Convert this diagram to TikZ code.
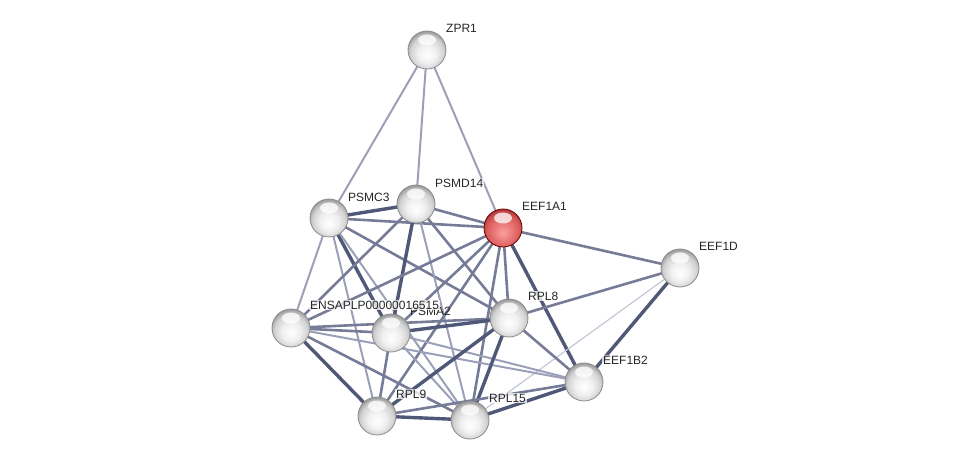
\documentclass[tikz,border=0pt]{standalone}
\usepackage{fontspec}
\setmainfont{Liberation Sans}
\usetikzlibrary{calc}
\definecolor{ethick}{RGB}{80,88,120}
\definecolor{emed}{RGB}{118,124,152}
\definecolor{elight}{RGB}{155,160,184}
\definecolor{evlight}{RGB}{192,196,212}
\pgfdeclareradialshading{sphgray}{\pgfpoint{0bp}{-7bp}}{%
  color(0bp)=(white);
  color(12bp)=(black!6);
  color(22bp)=(black!18);
  color(28bp)=(black!40);
  color(32bp)=(black!50);
  color(50bp)=(black!50)}
\pgfdeclareradialshading{sphred}{\pgfpoint{0bp}{-7bp}}{%
  color(0bp)=(rgb,255:red,250;green,160;blue,160);
  color(12bp)=(rgb,255:red,235;green,120;blue,120);
  color(22bp)=(rgb,255:red,215;green,90;blue,90);
  color(28bp)=(rgb,255:red,175;green,55;blue,55);
  color(32bp)=(rgb,255:red,150;green,40;blue,40);
  color(50bp)=(rgb,255:red,150;green,40;blue,40)}
\tikzset{
  eA/.style={draw=ethick,line width=3.4pt},
  eB/.style={draw=emed,line width=2.6pt},
  eC/.style={draw=elight,line width=2pt},
  eD/.style={draw=evlight,line width=1.1pt},
  prot/.style={circle,minimum size=38pt,inner sep=0pt,shading=sphgray,draw=black!45,line width=0.8pt},
  seed/.style={circle,minimum size=38pt,inner sep=0pt,shading=sphred,draw=red!40!black,line width=0.8pt},
  gloss/.style={fill=white,fill opacity=0.75},
  lbl/.style={anchor=west,font=\fontsize{12}{14}\selectfont,text=black!85,fill=white,fill opacity=0.75,text opacity=1,inner sep=1pt},
  lblfade/.style={anchor=west,font=\fontsize{12}{14}\selectfont,text=black!85,inner sep=1pt}
}
\begin{document}
\begin{tikzpicture}[x=1pt,y=-1pt]
\useasboundingbox (0,0) rectangle (975,465);
% node positions
\coordinate (pZ) at (427,50);
\coordinate (pC) at (329,218);
\coordinate (pD) at (416,204);
\coordinate (pA) at (503,228);
\coordinate (pE) at (680,268);
\coordinate (pN) at (291,328);
\coordinate (pM) at (391,333);
\coordinate (pR8) at (509,318);
\coordinate (pB) at (584,382);
\coordinate (pR9) at (377,416);
\coordinate (pR15) at (470,420);
% edges
\draw[eC] (pZ) -- (pC);
\draw[eC] (pZ) -- (pD);
\draw[eC] (pZ) -- (pA);
\draw[eA] (pC) -- (pD);
\draw[eB] (pC) -- (pA);
\draw[eC] (pC) -- (pN);
\draw[eA] (pC) -- (pM);
\draw[eC] (pC) -- (pR9);
\draw[eC] (pC) -- (pR15);
\draw[eB] (pC) -- (pR8);
\draw[eB] (pD) -- (pA);
\draw[eB] (pD) -- (pN);
\draw[eA] (pD) -- (pM);
\draw[eB] (pD) -- (pR8);
\draw[eC] (pD) -- (pR15);
\draw[eB] (pA) -- (pE);
\draw[eB] (pA) -- (pR8);
\draw[eA] (pA) -- (pB);
\draw[eB] (pA) -- (pR15);
\draw[eB] (pA) -- (pR9);
\draw[eB] (pA) -- (pM);
\draw[eB] (pA) -- (pN);
\draw[eB] (pE) -- (pR8);
\draw[eA] (pE) -- (pB);
\draw[eD] (pE) -- (pR15);
\draw[eB] (pN) -- (pM);
\draw[eB] (pN) -- (pR8);
\draw[eA] (pN) -- (pR9);
\draw[eB] (pN) -- (pR15);
\draw[eC] (pN) -- (pB);
\draw[eA] (pM) -- (pR8);
\draw[eB] (pM) -- (pR9);
\draw[eC] (pM) -- (pR15);
\draw[eC] (pM) -- (pB);
\draw[eA] (pR8) -- (pR9);
\draw[eA] (pR8) -- (pR15);
\draw[eB] (pR8) -- (pB);
\draw[eA] (pR9) -- (pR15);
\draw[eB] (pR9) -- (pB);
\draw[eA] (pR15) -- (pB);
% nodes
\foreach \n/\p/\s in {Z/pZ/prot, C/pC/prot, D/pD/prot, A/pA/seed, E/pE/prot, N/pN/prot, M/pM/prot, R8/pR8/prot, B/pB/prot, R9/pR9/prot, R15/pR15/prot}{
  \node[\s] (\n) at (\p) {};
  \fill[gloss] ($(\p)+(0,-10)$) ellipse [x radius=9pt, y radius=5.5pt];
}
% labels
\node[lbl] (lZ) at ($(Z)+(18,-22)$) {ZPR1};
\node[lbl] (lC) at ($(C)+(18,-21)$) {PSMC3};
\node[lbl] (lD) at ($(D)+(18,-21)$) {PSMD14};
\node[lbl] (lA) at ($(A)+(18,-22)$) {EEF1A1};
\node[lbl] (lE) at ($(E)+(18,-22)$) {EEF1D};
\node[lblfade] (lM) at ($(M)+(18,-22)$) {PSMA2};
\node[lbl] (lN) at ($(N)+(18,-23)$) {ENSAPLP00000016515};
\node[lbl] (lR8) at ($(R8)+(18,-22)$) {RPL8};
\node[lbl] (lB) at ($(B)+(18,-22)$) {EEF1B2};
\node[lbl] (lR9) at ($(R9)+(18,-22)$) {RPL9};
\node[lbl] (lR15) at ($(R15)+(18,-22)$) {RPL15};
\end{tikzpicture}
\end{document}
